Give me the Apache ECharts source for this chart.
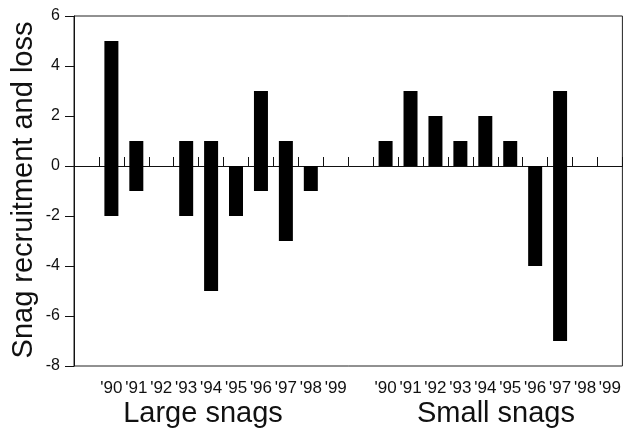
<!DOCTYPE html>
<html>
<head>
<meta charset="utf-8">
<script src="https://cdn.jsdelivr.net/npm/echarts@6/dist/echarts.min.js"></script>
<style>
  html, body { margin: 0; padding: 0; background: #ffffff; }
  #chart { width: 624px; height: 433px; }
</style>
</head>
<body>
<div id="chart"></div>
<script>
// Year tick labels shared by both snag groups
const years = ["'90", "'91", "'92", "'93", "'94", "'95", "'96", "'97", "'98", "'99"];

// Large snags: recruitment (positive) and loss (negative) per year
const largeRecruitment = [5, 1, 0, 1, 1, 0, 3, 1, 0, 0];
const largeLoss = [-2, -1, 0, -2, -5, -2, -1, -3, -1, 0];

// Small snags: recruitment (positive) and loss (negative) per year
const smallRecruitment = [1, 3, 2, 1, 2, 1, 0, 3, 0, 0];
const smallLoss = [0, 0, 0, 0, 0, 0, -4, -7, 0, 0];

const yTicks = { min: -8, max: 6, step: 2 };
const groupTitles = ['Large snags', 'Small snags'];
const yTitle = 'Snag recruitment and loss';

// Layout: one blank slot, ten large-snag years, one blank slot, ten small-snag years
const categories = [''].concat(years, [''], years);
const blank = v => (v === 0 ? '-' : v);
const recruitment = ['-'].concat(largeRecruitment.map(blank), ['-'], smallRecruitment.map(blank));
const loss = ['-'].concat(largeLoss.map(blank), ['-'], smallLoss.map(blank));

const FONT = "'Liberation Sans', Arial, Helvetica, sans-serif";
const INK = '#111';

const chart = echarts.init(document.getElementById('chart'), null, { renderer: 'canvas' });

chart.setOption({
  animation: false,
  backgroundColor: '#ffffff',
  grid: {
    left: 74, top: 16, width: 549, height: 350,
    show: true, borderColor: '#222', borderWidth: 1, backgroundColor: 'transparent'
  },
  xAxis: [
    {
      type: 'category',
      data: categories,
      position: 'bottom',
      axisLine: { onZero: true, lineStyle: { color: INK, width: 1 } },
      axisTick: { show: true, inside: true, length: 9, lineStyle: { color: INK, width: 1 } },
      axisLabel: { show: false },
      splitLine: { show: false }
    },
    {
      type: 'category',
      data: categories,
      position: 'bottom',
      axisLine: { show: false, onZero: false },
      axisTick: { show: false },
      axisLabel: {
        show: true, interval: 0, margin: 14,
        fontFamily: FONT, fontSize: 17, color: INK
      },
      splitLine: { show: false }
    }
  ],
  yAxis: {
    type: 'value',
    min: yTicks.min, max: yTicks.max, interval: yTicks.step,
    axisLine: { show: true, lineStyle: { color: INK, width: 1 } },
    axisTick: { show: true, inside: false, length: 9, lineStyle: { color: INK, width: 1 } },
    axisLabel: { margin: 14, fontFamily: FONT, fontSize: 16, color: INK },
    splitLine: { show: false }
  },
  series: [
    {
      name: 'Recruitment',
      type: 'bar',
      xAxisIndex: 0,
      stack: 'snags',
      barWidth: 14,
      itemStyle: { color: '#000' },
      data: recruitment
    },
    {
      name: 'Loss',
      type: 'bar',
      xAxisIndex: 0,
      stack: 'snags',
      barWidth: 14,
      itemStyle: { color: '#000' },
      data: loss
    }
  ],
  graphic: [
    {
      type: 'text',
      x: 24, y: 190,
      rotation: Math.PI / 2,
      style: {
        text: yTitle, fontFamily: FONT, fontSize: 29, fill: INK,
        textAlign: 'center', textVerticalAlign: 'middle'
      }
    },
    {
      type: 'text',
      x: 203, y: 414,
      style: {
        text: groupTitles[0], fontFamily: FONT, fontSize: 29, fill: INK,
        textAlign: 'center', textVerticalAlign: 'middle'
      }
    },
    {
      type: 'text',
      x: 496, y: 414,
      style: {
        text: groupTitles[1], fontFamily: FONT, fontSize: 29, fill: INK,
        textAlign: 'center', textVerticalAlign: 'middle'
      }
    }
  ]
});
</script>
</body>
</html>
